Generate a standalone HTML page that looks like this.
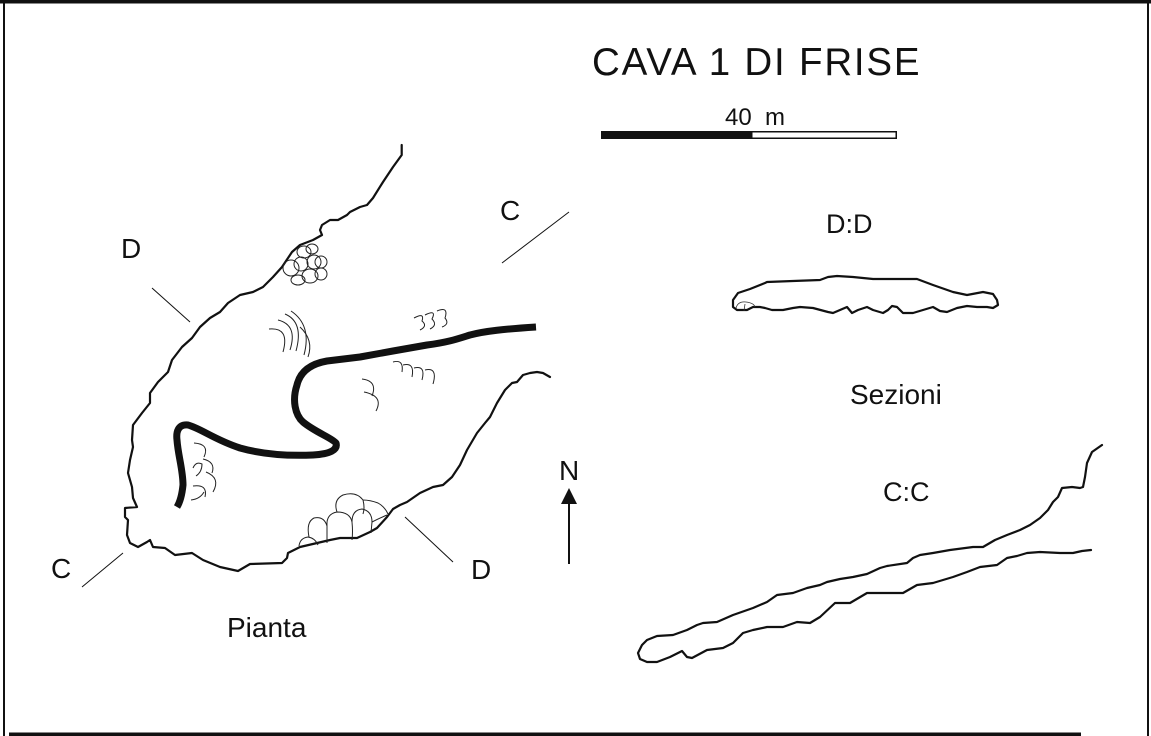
<!DOCTYPE html>
<html>
<head>
<meta charset="utf-8">
<style>
  html,body{margin:0;padding:0;background:#fff;}
  body{width:1151px;height:736px;overflow:hidden;}
  svg{display:block;}
  text{font-family:"Liberation Sans", Arial, sans-serif; fill:#111;}
</style>
</head>
<body>
<svg width="1151" height="736" viewBox="0 0 1151 736" xmlns="http://www.w3.org/2000/svg">
  <rect x="0" y="0" width="1151" height="736" fill="#fff"/>
  <!-- frame -->
  <rect x="0" y="0" width="1151" height="3.5" fill="#111"/>
  <rect x="3" y="0" width="2" height="736" fill="#111"/>
  <rect x="1147" y="0" width="2" height="736" fill="#111"/>
  <rect x="9" y="732.5" width="1072" height="3.5" fill="#111"/>

  <!-- title -->
  <text x="592" y="75" font-size="38.5" letter-spacing="1.8">CAVA 1 DI FRISE</text>
  <text x="725" y="125" font-size="24" xml:space="preserve">40  m</text>
  <rect x="601" y="131" width="150" height="8" fill="#111"/>
  <rect x="751.75" y="131.75" width="144.5" height="6.5" fill="#fff" stroke="#111" stroke-width="1.5"/>

  <!-- Plan outline -->
  <g fill="none" stroke="#111" stroke-width="2.2" stroke-linejoin="round" stroke-linecap="round">
    <polyline points="401.7,145 401.7,155 393,167 383,182 373,198 367,205 360,207 350,212 347,215 338,220 330,220 322,225 320,230 322,235 313,240 300,245 292,252 282,267 273,277 263,287 253,292 240,295 228,303 220,312 210,318 200,327 192,338 182,347 172,360 168,372 158,382 150,393 150,403 142,413 133,425 132,440 133,447 130,460 128,473 132,487 133,498 137,507 125,508 125,517 128,520 127,535 130,543 138,547 147,542 150,540 153,547 165,548 175,555 192,553 203,560 220,567 238,571 250,564 282,563 287,558 288,553 300,547 330,540 340,538 357,538 370,532 377,528 387,517 393,509 400,505 407,502 420,493 433,487 443,485 452,477 460,465 467,450 477,433 485,423 490,417 497,403 505,390 512,383 517,382 523,375 530,373 537,372 543,373 550,377"/>
  </g>

  <!-- thick passage line -->
  <path d="M536,327 C505,329 485,331 470,335 C460,338 450,342 427,345 L393,351 L360,357 L327,361 C310,364 300,372 297,385 C292,400 295,415 303,422 C315,432 332,438 336,443 C338,450 330,454 313,455 C290,456 265,455 240,448 C215,440 200,428 188,425 C178,424 176,432 177,440 C178,455 183,470 183,485 C182,495 180,502 177,507" fill="none" stroke="#111" stroke-width="7" stroke-linejoin="round"/>

  <!-- section cut lines -->
  <g stroke="#111" stroke-width="1" fill="none">
    <line x1="152" y1="288" x2="190" y2="322"/>
    <line x1="502" y1="263" x2="569" y2="212"/>
    <line x1="82" y1="587" x2="123" y2="553"/>
    <line x1="405" y1="517" x2="453" y2="562"/>
  </g>

  <!-- upper block cluster -->
  <g fill="none" stroke="#222" stroke-width="1">
    <ellipse cx="291" cy="268" rx="8" ry="8"/>
    <ellipse cx="298" cy="280" rx="7" ry="5"/>
    <ellipse cx="301" cy="264" rx="7" ry="7"/>
    <ellipse cx="304" cy="252" rx="7" ry="6"/>
    <ellipse cx="310" cy="276" rx="8" ry="7"/>
    <ellipse cx="314" cy="262" rx="7" ry="7"/>
    <ellipse cx="312" cy="249" rx="6" ry="5"/>
    <ellipse cx="321" cy="262" rx="6" ry="6"/>
    <ellipse cx="321" cy="274" rx="6" ry="6"/>
  </g>

  <!-- lower block cluster -->
  <g fill="none" stroke="#222" stroke-width="1">
    <path d="M299,546 Q300,538 308,537 Q315,538 318,545"/>
    <path d="M309,537 Q306,522 314,518 Q324,516 327,526 L327,543"/>
    <path d="M327,526 Q326,514 337,512 Q350,512 352,522 Q353,532 352,540"/>
    <path d="M337,512 Q333,500 343,495 Q356,491 363,500 Q365,508 363,514"/>
    <path d="M352,522 Q352,510 362,509 Q372,511 372,522 L371,533"/>
    <path d="M363,500 Q370,500 378,503 Q385,507 388,514"/>
    <path d="M372,522 Q380,518 387,515"/>
  </g>

  <!-- hatch arcs -->
  <g fill="none" stroke="#222" stroke-width="1">
    <path d="M269,329 Q290,327 283,352"/>
    <path d="M278,320 Q298,325 290,350"/>
    <path d="M285,314 Q304,322 296,351"/>
    <path d="M291,311 Q312,325 304,355"/>
    <path d="M300,327 Q314,340 308,357"/>

    <path d="M414,318 Q425,312 422,321 Q428,326 420,330"/>
    <path d="M425,315 Q437,309 432,319 Q438,325 430,329"/>
    <path d="M437,311 Q449,306 445,318 Q450,324 442,327"/>

    <path d="M393,362 Q404,359 402,372"/>
    <path d="M403,365 Q415,362 412,377"/>
    <path d="M414,368 Q426,365 422,380"/>
    <path d="M425,370 Q438,367 433,384"/>

    <path d="M362,379 Q378,381 372,396"/>
    <path d="M364,392 Q384,396 376,411"/>

    <path d="M194,443 Q210,444 204,457"/>
    <path d="M193,468 Q196,461 202,464 Q202,472 196,476"/>
    <path d="M203,459 Q216,462 212,473"/>
    <path d="M206,472 Q221,478 213,492"/>
    <path d="M193,486 Q208,484 205,497"/>
    <path d="M191,500 Q200,499 204,492"/>
  </g>

  <!-- labels plan -->
  <text x="121" y="258" font-size="28">D</text>
  <text x="500" y="220" font-size="28">C</text>
  <text x="51" y="578" font-size="28">C</text>
  <text x="471" y="579" font-size="28">D</text>
  <text x="227" y="637" font-size="28">Pianta</text>

  <!-- north arrow -->
  <text x="559" y="480" font-size="28">N</text>
  <polygon points="569,488 561,504 577,504" fill="#111"/>
  <line x1="569" y1="503" x2="569" y2="564" stroke="#111" stroke-width="2"/>

  <!-- section D:D -->
  <text x="826" y="233" font-size="27">D:D</text>
  <g fill="none" stroke="#111" stroke-width="2.2" stroke-linejoin="round">
    <polygon points="733,300 738,293 750,289 765,283 767,282 793,281 820,280 828,277 837,276 853,277 873,279 900,279 917,279 933,285 953,292 967,295 983,292 993,294 997,300 998,305 993,308 987,307 977,307 967,306 957,308 947,312 940,311 933,307 923,310 913,313 903,313 897,307 892,306 888,310 883,313 873,310 867,307 858,310 852,313 847,307 840,310 833,313 828,312 813,308 800,307 793,308 783,310 772,310 765,308 760,307 753,307 747,310 737,310 733,307"/>
  </g>
  <g fill="none" stroke="#333" stroke-width="0.8">
    <path d="M736,308 Q738,301 746,302 Q754,303 755,307"/>
    <line x1="745" y1="304" x2="744" y2="311"/>
  </g>
  <text x="850" y="404" font-size="28">Sezioni</text>

  <!-- section C:C -->
  <text x="883" y="501" font-size="27">C:C</text>
  <g fill="none" stroke="#111" stroke-width="2.2" stroke-linejoin="round" stroke-linecap="round">
    <polyline points="1102,445 1092,452 1087,463 1085,477 1083,487 1080,488 1072,487 1062,488 1058,497 1053,502 1048,510 1040,518 1030,525 1020,530 1007,535 995,540 983,547 973,547 950,550 933,553 920,555 913,558 907,563 887,566 880,568 867,574 853,577 840,579 827,582 820,585 807,588 793,593 777,595 767,602 753,608 733,615 717,622 703,623 697,625 687,630 673,635 657,636 647,640 642,645 638,653 640,659 647,662 657,662 670,657 682,651 687,657 692,658 707,650 723,648 733,643 743,633 753,630 767,627 783,627 797,622 810,623 820,617 835,603 850,603 867,593 887,593 903,593 917,585 933,583 953,577 967,572 980,567 997,565 1007,558 1017,556 1027,553 1040,552 1060,553 1073,553 1082,551 1091,550"/>
  </g>
</svg>
</body>
</html>
